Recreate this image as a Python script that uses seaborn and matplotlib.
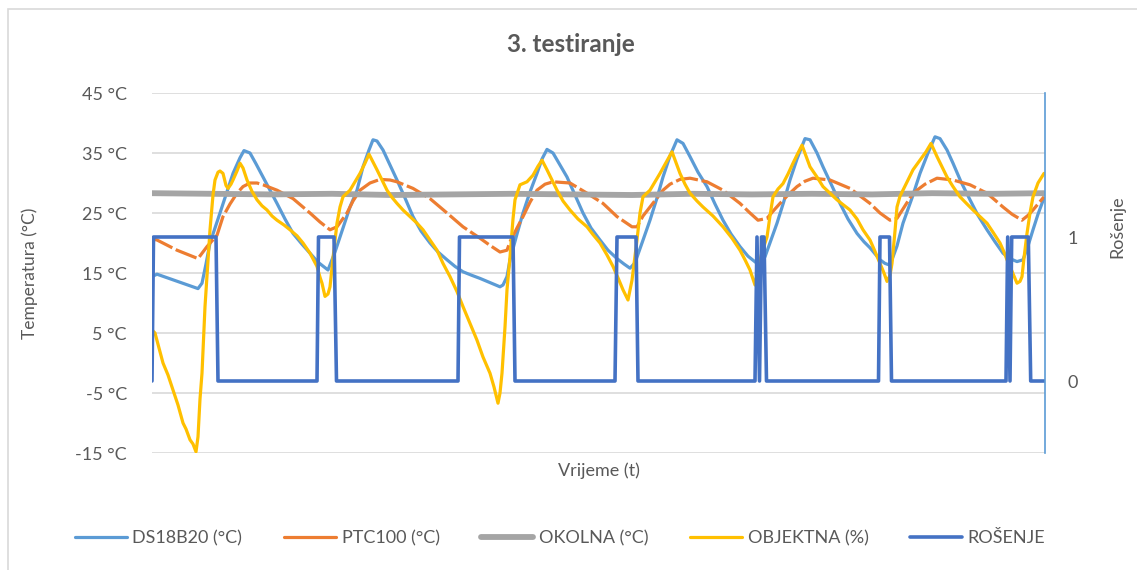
import matplotlib
matplotlib.use("Agg")
from matplotlib import pyplot as plt
from matplotlib.lines import Line2D
from matplotlib.patches import Rectangle
import seaborn as sns

# time axis is in samples
ds_t = [0, 5, 46, 50, 54, 58, 68, 81, 88, 92, 98, 104, 111, 118, 125, 133, 141, 150, 158, 166,
        176, 183, 188, 198, 205, 211, 217, 221, 225, 231, 238, 245, 253, 261, 269, 278, 286, 295,
        303, 311, 320, 328, 338, 348, 351, 355, 358, 365, 371, 378, 385, 390, 395, 401, 408, 415,
        423, 431, 439, 448, 456, 465, 472, 478, 483, 490, 498, 505, 511, 518, 525, 531, 538, 546,
        555, 563, 571, 579, 588, 596, 605, 613, 619, 625, 632, 638, 645, 653, 658, 665, 671, 680,
        688, 696, 705, 712, 718, 728, 733, 738, 745, 751, 760, 768, 776, 783, 788, 795, 801, 809,
        818, 826, 835, 843, 851, 858, 865, 871, 876, 881, 886, 892]
ds18b20 = [14.4, 14.8, 12.4, 13.3, 16.5, 20.0, 25.0, 31.6, 34.2, 35.4, 35.0, 33.2, 31.0, 28.8,
           26.6, 24.0, 21.6, 19.8, 18.3, 16.8, 15.5, 18.5, 21.0, 26.0, 28.8, 32.7, 35.5, 37.2,
           37.0, 35.5, 33.0, 30.5, 27.5, 24.4, 22.0, 20.0, 18.5, 17.2, 16.1, 15.2, 14.6, 14.1,
           13.4, 12.7, 13.0, 14.4, 17.2, 21.5, 25.0, 28.5, 31.6, 34.0, 35.6, 35.0, 33.0, 31.0,
           28.0, 25.0, 22.5, 20.5, 18.8, 17.4, 16.5, 15.8, 16.7, 20.0, 23.8, 27.5, 31.0, 34.5,
           37.2, 36.6, 34.4, 31.8, 29.4, 26.5, 23.8, 21.5, 19.4, 17.8, 16.6, 17.7, 20.5, 23.3,
           27.0, 30.5, 34.0, 37.4, 37.2, 35.0, 32.7, 29.5, 26.6, 24.0, 21.6, 20.2, 19.2, 17.2,
           16.6, 16.3, 19.5, 23.3, 27.5, 31.6, 35.0, 37.7, 37.4, 35.5, 33.3, 30.2, 27.2, 24.6,
           22.2, 20.2, 18.3, 17.4, 16.9, 17.2, 19.5, 22.2, 24.8, 27.5]

ptc_t = [0, 5, 25, 46, 55, 65, 71, 78, 85, 91, 98, 105, 111, 125, 141, 158, 168, 178, 185, 195,
         201, 208, 218, 228, 238, 245, 261, 278, 295, 311, 328, 338, 348, 355, 358, 365, 371, 378,
         385, 393, 401, 418, 435, 451, 465, 480, 485, 491, 498, 505, 511, 518, 528, 538, 555, 571,
         588, 598, 606, 615, 621, 628, 636, 645, 653, 661, 678, 698, 718, 728, 738, 745, 753, 761,
         773, 785, 801, 818, 835, 851, 860, 870, 876, 881, 892]
ptc100 = [20.7, 20.5, 18.8, 17.4, 19.4, 21.3, 24.4, 26.5, 28.3, 29.4, 30.0, 30.0, 29.7, 28.8,
          27.4, 25.0, 23.5, 22.2, 22.7, 25.0, 27.0, 28.8, 30.0, 30.6, 30.5, 30.2, 29.1, 27.4,
          25.0, 22.7, 20.8, 19.6, 18.5, 18.8, 20.2, 22.5, 24.4, 26.8, 28.8, 29.8, 30.2, 30.0,
          28.3, 26.6, 24.4, 22.7, 22.7, 24.5, 26.0, 27.5, 28.8, 29.8, 30.6, 30.8, 30.2, 28.8,
          26.6, 25.0, 23.8, 24.1, 25.3, 26.6, 28.0, 29.4, 30.3, 30.8, 30.5, 29.1, 26.6, 25.0,
          23.8, 24.1, 26.2, 28.3, 29.8, 30.8, 30.5, 29.7, 28.3, 26.0, 24.8, 23.8, 24.6, 25.5, 27.7]

okolna_t = [0, 60, 120, 180, 240, 300, 360, 420, 480, 540, 600, 660, 720, 780, 840, 892]
okolna = [28.3, 28.2, 28.1, 28.2, 28.0, 28.1, 28.2, 28.1, 28.0, 28.2, 28.1, 28.2, 28.1, 28.3,
          28.2, 28.3]

obj_t = [0, 3, 7, 11, 16, 21, 26, 31, 34, 38, 41, 44, 46, 48, 50, 53, 56, 58, 61, 63, 66, 68, 71,
         74, 76, 79, 81, 85, 88, 91, 95, 100, 105, 110, 115, 120, 125, 132, 138, 145, 151, 158,
         165, 168, 170, 173, 176, 178, 181, 185, 188, 191, 198, 203, 208, 213, 217, 221, 225, 230,
         235, 240, 245, 251, 258, 265, 271, 278, 285, 291, 298, 305, 311, 318, 325, 331, 338, 342,
         346, 348, 350, 353, 355, 358, 361, 363, 368, 375, 381, 386, 390, 395, 400, 405, 411, 418,
         426, 435, 441, 448, 455, 461, 466, 471, 476, 480, 485, 488, 491, 498, 503, 508, 514, 520,
         524, 528, 533, 538, 545, 551, 561, 571, 580, 588, 593, 598, 603, 606, 610, 615, 618, 621,
         626, 631, 636, 641, 646, 650, 654, 658, 665, 671, 678, 685, 691, 698, 705, 711, 718, 723,
         728, 732, 735, 738, 740, 743, 745, 748, 751, 756, 761, 768, 774, 779, 782, 785, 790, 795,
         801, 808, 815, 821, 828, 835, 841, 848, 852, 855, 860, 865, 868, 870, 872, 875, 878, 881,
         886, 892]
objektna = [5.5, 5.0, 2.5, 0.0, -2.0, -4.5, -7.0, -10.0, -11.0, -12.8, -13.5, -14.8, -12.3, -6.0,
            -1.7, 9.4, 17.0, 22.2, 28.0, 30.5, 31.8, 32.0, 31.6, 29.6, 29.1, 29.8, 30.5, 32.0,
            33.3, 32.5, 30.5, 28.6, 27.2, 26.2, 25.5, 24.5, 23.8, 23.0, 22.2, 21.2, 20.0, 18.3,
            16.1, 14.3, 13.3, 11.1, 11.5, 12.7, 17.5, 23.3, 26.0, 27.7, 28.8, 30.2, 31.6, 33.3,
            34.8, 33.5, 32.2, 30.5, 28.8, 27.6, 26.6, 25.5, 24.4, 23.3, 22.2, 20.5, 18.8, 16.6,
            14.4, 11.9, 9.4, 6.6, 3.8, 1.0, -1.7, -4.0, -6.7, -5.0, -1.7, 6.0, 12.2, 17.7, 24.0,
            27.2, 29.7, 30.2, 31.3, 32.8, 33.8, 32.2, 30.5, 28.8, 27.0, 25.5, 24.0, 22.7, 21.4,
            20.0, 18.0, 16.1, 14.2, 12.2, 10.5, 13.8, 20.5, 25.0, 27.7, 28.8, 30.2, 31.6, 33.4,
            35.2, 33.4, 31.6, 29.8, 28.3, 27.0, 26.0, 24.5, 22.7, 20.8, 18.8, 17.2, 15.5, 13.0,
            15.5, 18.5, 21.0, 24.5, 27.7, 29.0, 29.9, 31.5, 33.3, 35.0, 36.3, 34.5, 32.7, 31.0,
            29.4, 28.3, 27.2, 26.4, 25.5, 24.0, 22.2, 20.5, 18.6, 16.6, 15.0, 13.6, 14.6, 16.6,
            22.0, 26.0, 27.8, 28.8, 30.5, 32.2, 33.8, 35.2, 36.6, 35.5, 34.4, 32.7, 31.0, 29.4,
            27.7, 26.5, 25.5, 24.4, 23.3, 21.8, 20.0, 18.5, 17.2, 15.3, 13.3, 13.6, 14.4, 17.5,
            21.6, 25.0, 27.7, 30.0, 31.6]

ros_t = [0, 1.5, 64, 66, 165, 166.5, 182, 184.5, 306, 307.5, 361, 363, 463, 465, 484, 486,
         603, 605, 607.5, 609.5, 612, 614.5, 726.5, 728, 737.5, 739.5, 854, 855.7, 858, 859.7,
         876.3, 878.7, 893]
rosenje = [0, 1, 1, 0, 0, 1, 1, 0, 0, 1, 1, 0, 0, 1, 1, 0, 0, 1, 0, 1, 1, 0, 0, 1, 1, 0, 0, 1,
           0, 1, 1, 0, 0]

temp_ticks = [-15, -5, 5, 15, 25, 35, 45]

c_ds = "#5B9BD5"
c_ptc = "#ED7D31"
c_okol = "#A5A5A5"
c_obj = "#FFC000"
c_ros = "#4472C4"
txt = "#595959"

sns.set_theme(style="white")
plt.rcParams['font.family'] = ['Lato', 'DejaVu Sans']

fig = plt.figure(figsize=(11.37, 5.70), dpi=100)
ax = fig.add_axes([152 / 1137, 1 - 453 / 570, 893 / 1137, 360 / 570])
ax2 = ax.twinx()

sns.lineplot(x=ds_t, y=ds18b20, ax=ax, color=c_ds, lw=2.3, estimator=None, sort=False,
             solid_joinstyle='round')
sns.lineplot(x=ptc_t, y=ptc100, ax=ax, color=c_ptc, lw=2.3, estimator=None, sort=False,
             dashes=False)
ax.lines[-1].set_dashes((7, 1.2))
sns.lineplot(x=okolna_t, y=okolna, ax=ax, color=c_okol, lw=4.2, estimator=None, sort=False)
sns.lineplot(x=obj_t, y=objektna, ax=ax, color=c_obj, lw=2.3, estimator=None, sort=False,
             solid_joinstyle='round')
sns.lineplot(x=ros_t, y=rosenje, ax=ax2, color=c_ros, lw=2.6, estimator=None, sort=False)

ax.set_xlim(0, 893)
ax.set_ylim(-15, 45)
ax2.set_ylim(-0.5, 2.0)

ax.set_yticks(temp_ticks)
ax.set_yticklabels([f"{v} °C" for v in temp_ticks])
ax.set_xticks([])
ax.grid(axis='y', color='#D9D9D9', lw=1.2)
ax.tick_params(axis='y', length=0, pad=18, labelsize=13, labelcolor=txt)

ax2.set_yticks([0, 1])
ax2.tick_params(axis='y', length=0, pad=16, labelsize=13, labelcolor=txt)
ax2.grid(False)

for a in (ax, ax2):
    for s in a.spines.values():
        s.set_visible(False)
ax2.spines['right'].set_visible(True)
ax2.spines['right'].set_color(c_ds)
ax2.spines['right'].set_linewidth(1.2)

ax.set_xlabel("Vrijeme (t)", fontsize=13, color=txt)
ax.xaxis.set_label_coords(0.5, -0.025)
ax.set_ylabel("Temperatura (°C)", fontsize=12.5, color=txt)
ax.yaxis.set_label_coords(-0.128, 0.5)
ax2.set_ylabel("Rošenje", fontsize=13, color=txt, rotation=90)
ax2.yaxis.set_label_coords(1.072, 0.63)

fig.text(0.502, 1 - 45 / 570, "3. testiranje", ha='center', va='center', fontsize=17.5,
         fontweight='bold', color=txt)

handles = [Line2D([], [], color=c_ds, lw=2.3), Line2D([], [], color=c_ptc, lw=2.3),
           Line2D([], [], color=c_okol, lw=4.2), Line2D([], [], color=c_obj, lw=2.3),
           Line2D([], [], color=c_ros, lw=2.6)]
labels = ["DS18B20 (°C)", "PTC100 (°C)", "OKOLNA (°C)", "OBJEKTNA (%)", "ROŠENJE"]
fig.legend(handles, labels, loc='center', bbox_to_anchor=(560 / 1137, 1 - 538 / 570), ncol=5,
           frameon=False, fontsize=13, handlelength=2.9, handletextpad=0.3, columnspacing=2.3,
           labelcolor=txt)

fig.patches.append(Rectangle((8 / 1137, -0.1), 1.2, 1 - 9 / 570 + 0.1, transform=fig.transFigure,
                             fill=False, ec='#D9D9D9', lw=1.2))

fig.savefig("out.png", dpi=100)
